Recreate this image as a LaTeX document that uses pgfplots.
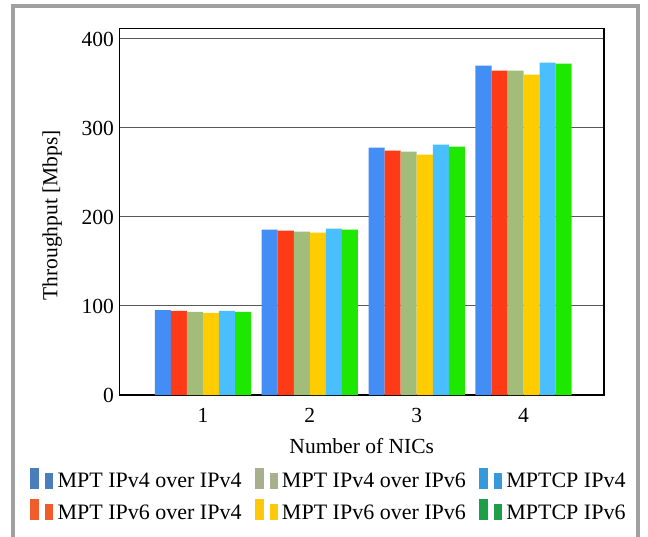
\documentclass[border=0pt]{standalone}
\usepackage{pgfplots}
\pgfplotsset{compat=1.18}
\usepackage{fontspec}
\setmainfont{Liberation Serif}
\definecolor{cA}{RGB}{66,142,245}
\definecolor{cB}{RGB}{255,58,23}
\definecolor{cC}{RGB}{162,188,121}
\definecolor{cD}{RGB}{255,204,0}
\definecolor{cE}{RGB}{74,191,255}
\definecolor{cF}{RGB}{30,232,0}
\definecolor{lA}{RGB}{74,126,187}
\definecolor{lB}{RGB}{240,92,44}
\definecolor{lC}{RGB}{168,175,140}
\definecolor{lD}{RGB}{255,200,10}
\definecolor{lE}{RGB}{54,154,218}
\definecolor{lF}{RGB}{30,158,72}
\definecolor{frame}{RGB}{160,160,160}
\newcommand{\legbars}[1]{\fill[#1] (0pt,-7pt) rectangle (8pt,13pt); \fill[#1] (15pt,-7pt) rectangle (22pt,8pt); \path (27pt,0pt);}
\begin{document}
\begin{tikzpicture}
\useasboundingbox (0pt,0pt) rectangle (648pt,-537pt);
\draw[frame, line width=4pt] (13pt,-600pt) -- (13pt,-6pt) -- (638pt,-6pt) -- (638pt,-600pt);
\begin{axis}[
  at={(119.5pt,-395pt)}, anchor=south west,
  scale only axis, width=484.5pt, height=366.7pt,
  ybar, bar width=16.04pt,
  xmin=0.2196, xmax=4.752, ymin=0, ymax=412,
  xtick={1,2,3,4}, ytick={0,100,200,300,400},
  major tick length=0pt,
  ymajorgrids, grid style={gray!70!black, line width=1pt},
  axis line style={line width=1.5pt},
  /pgf/number format/assume math mode=true,
  tick label style={font=\fontsize{21.5}{26}\selectfont},
  xticklabel style={yshift=-10pt},
  yticklabel style={xshift=-2pt},
  label style={font=\fontsize{21.5}{26}\selectfont},
  xlabel={Number of NICs}, ylabel={Throughput [Mbps]},
  xlabel style={at={(axis description cs:0.5,-0.138)}, anchor=center},
  ylabel style={at={(axis description cs:-0.139,0.49)}, anchor=center},
  legend columns=3,
  legend style={at={(axis description cs:-0.1847,-0.199)}, anchor=north west,
    draw=none, fill=none, inner sep=0pt, column sep=0pt, row sep=10pt,
    font=\fontsize{22}{26}\selectfont, nodes={inner sep=0pt},
    /tikz/every even column/.append style={column sep=13pt}},
  legend cell align=left,
]
\addplot[fill=cA, draw=none, forget plot, bar shift=-40.1pt] coordinates {(1,95.5) (2,185.7) (3,278) (4,370)};
\addplot[fill=cB, draw=none, forget plot, bar shift=-24.06pt] coordinates {(1,94.5) (2,184.6) (3,274.5) (4,364.4)};
\addplot[fill=cC, draw=none, forget plot, bar shift=-8.02pt] coordinates {(1,93.4) (2,183.5) (3,273.4) (4,364.4)};
\addplot[fill=cD, draw=none, forget plot, bar shift=8.02pt] coordinates {(1,92.2) (2,182.4) (3,270) (4,360)};
\addplot[fill=cE, draw=none, forget plot, bar shift=24.06pt] coordinates {(1,94.5) (2,186.9) (3,281.2) (4,373.4)};
\addplot[fill=cF, draw=none, forget plot, bar shift=40.1pt] coordinates {(1,93.4) (2,185.7) (3,279) (4,372.2)};
\addlegendimage{legend image code/.code={\legbars{lA}}}
\addlegendentry{MPT IPv4 over IPv4}
\addlegendimage{legend image code/.code={\legbars{lC}}}
\addlegendentry{MPT IPv4 over IPv6}
\addlegendimage{legend image code/.code={\legbars{lE}}}
\addlegendentry{MPTCP IPv4}
\addlegendimage{legend image code/.code={\legbars{lB}}}
\addlegendentry{MPT IPv6 over IPv4}
\addlegendimage{legend image code/.code={\legbars{lD}}}
\addlegendentry{MPT IPv6 over IPv6}
\addlegendimage{legend image code/.code={\legbars{lF}}}
\addlegendentry{MPTCP IPv6}
\end{axis}
\end{tikzpicture}
\end{document}
